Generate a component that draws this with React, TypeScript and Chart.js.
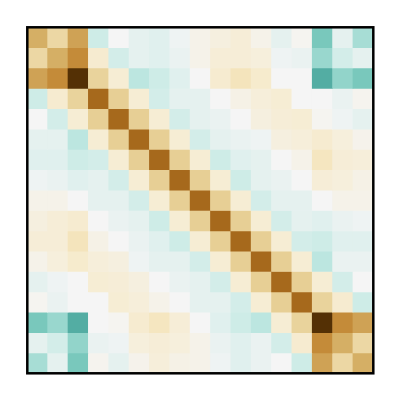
import React, { useEffect, useRef } from "react";
import { Chart, registerables } from "chart.js";

Chart.register(...registerables);

// Variable labels (axes hidden in the reference)
const labels = ["0","1","2","3","4","5","6","7","8","9","10","11","12","13","14","15","16"];

// Upper-triangle rows of the symmetric matrix (row i starts at column i)
const row0 = [0.46, 0.29, 0.5, -0.17, 0.0, -0.07, -0.09, -0.03, 0.05, 0.09, 0.12, 0.05, -0.07, 0.02, -0.42, -0.07, -0.29];
const row1 = [0.46, 0.57, 0.15, -0.15, -0.07, -0.09, -0.05, 0.05, 0.12, 0.12, 0.1, -0.03, -0.05, -0.33, -0.15, -0.07];
const row2 = [1.0, 0.31, 0.13, -0.23, -0.17, -0.09, 0.0, 0.15, 0.22, 0.16, 0.0, 0.0, -0.52, -0.35, -0.42];
const row3 = [0.7, 0.33, 0.13, -0.15, -0.07, -0.07, 0.0, 0.06, 0.11, 0.13, 0.0, 0.0, -0.05, 0.03];
const row4 = [0.7, 0.33, 0.13, -0.15, -0.07, -0.05, 0.0, 0.09, 0.12, 0.13, 0.02, -0.03, -0.07];
const row5 = [0.7, 0.33, 0.13, -0.15, -0.07, -0.05, -0.03, 0.09, 0.11, 0.15, 0.1, 0.04];
const row6 = [0.7, 0.33, 0.13, -0.17, -0.09, -0.07, 0.0, 0.05, 0.21, 0.12, 0.11];
const row7 = [0.7, 0.33, 0.13, -0.17, -0.07, -0.05, 0.0, 0.12, 0.1, 0.06];
const row8 = [0.7, 0.33, 0.13, -0.15, -0.07, -0.07, 0.0, 0.05, 0.05];
const row9 = [0.7, 0.33, 0.13, -0.15, -0.07, -0.09, -0.05, -0.03];
const row10 = [0.7, 0.33, 0.13, -0.15, -0.17, -0.09, -0.09];
const row11 = [0.7, 0.33, 0.13, -0.23, -0.05, -0.05];
const row12 = [0.7, 0.33, 0.13, -0.15, 0.0];
const row13 = [0.7, 0.31, 0.15, -0.17];
const row14 = [1.0, 0.57, 0.5];
const row15 = [0.46, 0.29];
const row16 = [0.46];

const upperRows = [row0, row1, row2, row3, row4, row5, row6, row7, row8, row9, row10, row11, row12, row13, row14, row15, row16];

const VMIN = -1;
const VMAX = 1;

// BrBG colormap anchors (reversed use: high value -> brown)
const BRBG = [
  [84, 48, 5], [140, 81, 10], [191, 129, 45], [223, 194, 125], [246, 232, 195],
  [245, 245, 245], [199, 234, 229], [128, 205, 193], [53, 151, 143], [1, 102, 94], [0, 60, 48],
];

function colorFor(v: number): string {
  let t = (VMAX - v) / (VMAX - VMIN);
  t = Math.max(0, Math.min(1, t));
  const pos = t * (BRBG.length - 1);
  const i = Math.min(BRBG.length - 2, Math.floor(pos));
  const f = pos - i;
  const a = BRBG[i], b = BRBG[i + 1];
  const c = a.map((x, k) => Math.round(x + (b[k] - x) * f));
  return `rgb(${c[0]},${c[1]},${c[2]})`;
}

function fullMatrix(): number[][] {
  const n = labels.length;
  const m: number[][] = Array.from({ length: n }, () => new Array(n).fill(0));
  for (let i = 0; i < n; i++) {
    const r = upperRows[i];
    for (let k = 0; k < r.length; k++) {
      const j = i + k;
      m[i][j] = r[k];
      m[j][i] = r[k];
    }
  }
  return m;
}

const framePlugin = {
  id: "frame",
  afterDraw(chart: any) {
    const { ctx, chartArea } = chart;
    ctx.save();
    ctx.strokeStyle = "#000";
    ctx.lineWidth = 2.5;
    ctx.strokeRect(chartArea.left, chartArea.top, chartArea.right - chartArea.left, chartArea.bottom - chartArea.top);
    ctx.restore();
  },
};

export default function App() {
  const ref = useRef<HTMLCanvasElement | null>(null);

  useEffect(() => {
    if (!ref.current) return;
    const m = fullMatrix();
    const datasets = m.map((row, i) => ({
      label: labels[i],
      data: row.map(() => [i - 0.5, i + 0.5] as [number, number]),
      backgroundColor: row.map((v) => colorFor(v)),
      borderWidth: 0,
      barPercentage: 1,
      categoryPercentage: 1,
      grouped: false,
    }));
    const chart = new Chart(ref.current, {
      type: "bar",
      data: { labels, datasets: datasets as any },
      options: {
        animation: false,
        responsive: false,
        maintainAspectRatio: false,
        layout: { padding: { left: 27.3, right: 26.7, top: 27.3, bottom: 26.7 } },
        plugins: { legend: { display: false }, tooltip: { enabled: false } },
        scales: {
          x: { type: "category", display: false, offset: true },
          y: { type: "linear", display: false, min: -0.5, max: 16.5, reverse: true },
        },
      },
      plugins: [framePlugin],
    });
    return () => chart.destroy();
  }, []);

  return (
    <div style={{ position: "fixed", left: 0, top: 0, width: 400, height: 400, background: "#fff" }}>
      <canvas ref={ref} width={400} height={400} style={{ width: 400, height: 400 }} />
    </div>
  );
}
